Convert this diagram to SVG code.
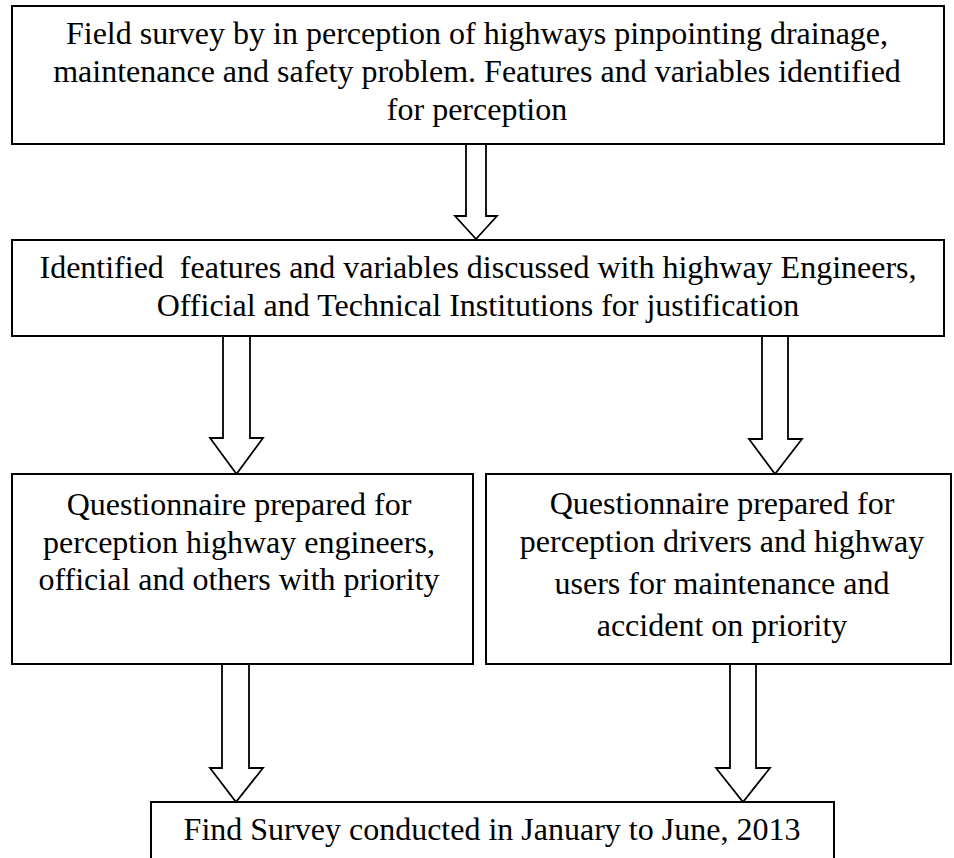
<svg xmlns="http://www.w3.org/2000/svg" width="954" height="858" viewBox="0 0 954 858">
<style>
.box{fill:#fff;stroke:#000;stroke-width:2}
.arr{fill:#fff;stroke:#000;stroke-width:1.8;stroke-linejoin:miter}
.t{font-family:"Liberation Serif","Times New Roman",serif;font-size:32px;fill:#000;text-anchor:middle;white-space:pre}
</style>
<rect width="954" height="858" fill="#fff"/>
<g id="connectors">
<polygon class="arr" points="466,144 486,144 486,216 497,216 476,239 455,216 466,216"/>
<polygon class="arr" points="223,336 250,336 250,438 263,438 236.5,474 210,438 223,438"/>
<polygon class="arr" points="762,336 788,336 788,439 802,439 775,474 749,439 762,439"/>
<polygon class="arr" points="222,664 249,664 249,768 263,768 236,802 210,768 222,768"/>
<polygon class="arr" points="730,664 756,664 756,768 770,768 743,802 716,768 730,768"/>
</g>
<g id="n1">
<rect class="box" x="12" y="6" width="932" height="138"/>
<text class="t" x="477" y="44">Field survey by in perception of highways pinpointing drainage,</text>
<text class="t" x="477" y="82">maintenance and safety problem. Features and variables identified</text>
<text class="t" x="477" y="120">for perception</text>
</g>
<g id="n2">
<rect class="box" x="12" y="240" width="932" height="96"/>
<text class="t" x="478" y="278" xml:space="preserve">Identified  features and variables discussed with highway Engineers,</text>
<text class="t" x="478" y="316">Official and Technical Institutions for justification</text>
</g>
<g id="n3">
<rect class="box" x="12" y="474" width="461" height="190"/>
<text class="t" x="239" y="515">Questionnaire prepared for</text>
<text class="t" x="239" y="553">perception highway engineers,</text>
<text class="t" x="239" y="590">official and others with priority</text>
</g>
<g id="n4">
<rect class="box" x="486" y="474" width="465" height="190"/>
<text class="t" x="722" y="514">Questionnaire prepared for</text>
<text class="t" x="722" y="552">perception drivers and highway</text>
<text class="t" x="722" y="594">users for maintenance and</text>
<text class="t" x="722" y="636">accident on priority</text>
</g>
<g id="n5">
<rect class="box" x="151" y="802" width="683" height="80"/>
<text class="t" x="492" y="840">Find Survey conducted in January to June, 2013</text>
</g>
</svg>
